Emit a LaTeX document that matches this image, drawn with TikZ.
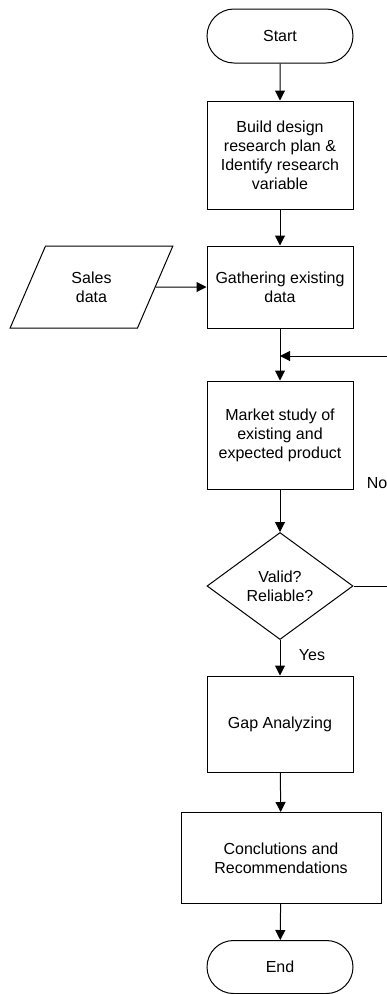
\documentclass[tikz,border=0pt]{standalone}
\usepackage{fontspec}
\setmainfont{Liberation Sans}
\usetikzlibrary{shapes.geometric, shapes.misc, arrows.meta, positioning, calc}

\begin{document}
\begin{tikzpicture}[x=1pt, y=-1pt,
    every node/.style={font=\fontsize{16}{19}\selectfont, align=center, inner sep=0pt},
    line/.style={line width=1pt, draw=black},
    arr/.style={line, -{Triangle[length=10pt, width=10pt]}},
    term/.style={line, rounded rectangle, minimum width=146pt, minimum height=54pt},
    proc/.style={line, rectangle, minimum width=146pt},
    datain/.style={line, trapezium, trapezium left angle=63.4, trapezium right angle=116.6,
        trapezium stretches=true, minimum width=163pt, minimum height=82pt},
    decide/.style={line, diamond, aspect=1.36, minimum width=146pt, minimum height=107pt}]
\useasboundingbox (0,0) rectangle (387,994);

% Main column
\node[term] (start) at (280,36) {Start};
\node[proc, minimum height=108pt] (build) at (280,155) {Build design\\research plan \&\\Identify research\\variable};
\node[proc, minimum height=82pt] (gather) at (280,287) {Gathering existing\\data};
\node[datain] (sales) at (91.5,287) {Sales\\data};
\coordinate (merge) at (280,356);
\node[proc, minimum height=108pt] (market) at (280,435) {Market study of\\existing and\\expected product};
\node[decide] (valid) at (280,586) {Valid?\\Reliable?};
\node[proc, minimum height=96pt] (gap) at (280,724) {Gap Analyzing};
\node[proc, minimum width=200pt, minimum height=91pt] (concl) at (281,858) {Conclutions and\\Recommendations};
\node[term, minimum height=53pt] (end) at (280,967) {End};

% Labels
\node (no) at (377,483) {No};
\node (yes) at (312,655) {Yes};

% Connectors
\draw[arr] (start) -- (build);
\draw[arr] (build) -- (gather);
\draw[arr] (sales.east) -- (gather.west);
\draw[line] (gather) -- (merge);
\draw[arr] (merge) -- (market);
\draw[arr] (market) -- (valid);
\draw[arr] (valid.east) -- ++(50,0) |- (merge);
\draw[arr] (valid) -- (gap);
\draw[arr] (gap) -- (concl);
\draw[arr] (concl) -- (end);
\end{tikzpicture}
\end{document}
